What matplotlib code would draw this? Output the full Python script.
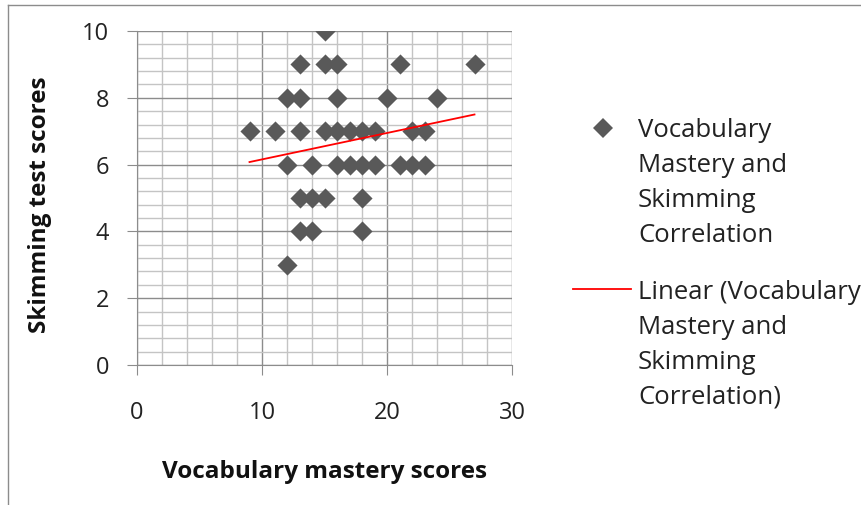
import numpy as np
import matplotlib.pyplot as plt
from matplotlib.lines import Line2D
from matplotlib.ticker import MultipleLocator

# scores (vocabulary x, skimming y)
vocab = [15,
         13, 15, 16, 21, 27,
         12, 13, 16, 20, 24,
         9, 11, 13, 15, 16, 17, 18, 19, 22, 23,
         12, 14, 16, 17, 18, 19, 21, 22, 23,
         13, 14, 15, 18,
         13, 14, 18,
         12]
skim = [10,
        9, 9, 9, 9, 9,
        8, 8, 8, 8, 8,
        7, 7, 7, 7, 7, 7, 7, 7, 7, 7,
        6, 6, 6, 6, 6, 6, 6, 6, 6,
        5, 5, 5, 5,
        4, 4, 4,
        3]

series_label = "Vocabulary\nMastery and\nSkimming\nCorrelation"
trend_label = "Linear (Vocabulary\nMastery and\nSkimming\nCorrelation)"

plt.rcParams["font.family"] = ["Open Sans", "DejaVu Sans"]

W, H = 861, 505
fig = plt.figure(figsize=(W / 100, H / 100), dpi=100)
ax = fig.add_axes([137 / W, 1 - 365 / H, 375 / W, 334 / H])

x = np.array(vocab, dtype=float)
y = np.array(skim, dtype=float)
ax.scatter(x, y, marker="D", s=105, color="#595959", zorder=3, linewidths=0)

# linear trend line over the data range
k, b = np.polyfit(x, y, 1)
xs = np.array([x.min(), x.max()])
ax.plot(xs, k * xs + b, color="#ff0000", lw=1.3, zorder=4)

ax.set_xlim(0, 30)
ax.set_ylim(0, 10)
ax.xaxis.set_major_locator(MultipleLocator(10))
ax.xaxis.set_minor_locator(MultipleLocator(2))
ax.yaxis.set_major_locator(MultipleLocator(2))
ax.yaxis.set_minor_locator(MultipleLocator(0.4))
ax.grid(which="major", color="#8c8c8c", lw=1.0)
ax.grid(which="minor", color="#c4c4c4", lw=1.0)
ax.set_axisbelow(True)

for side in ("top", "right"):
    ax.spines[side].set_visible(False)
for side in ("left", "bottom"):
    ax.spines[side].set_color("#8c8c8c")
ax.tick_params(which="major", length=7, color="#8c8c8c", labelsize=17, labelcolor="#222222")
ax.tick_params(axis="y", pad=13)
ax.tick_params(axis="x", pad=19)
ax.tick_params(which="minor", length=0)

fig.text(325 / W, 1 - 472 / H, "Vocabulary mastery scores", fontsize=17.5,
         fontweight="bold", ha="center", va="center", color="#111111")
fig.text(40 / W, 1 - 205 / H, "Skimming test scores", fontsize=17.5,
         fontweight="bold", ha="center", va="center", rotation=90, color="#111111")

# legend, drawn by hand so the keys sit on the first text line
fig.add_artist(Line2D([603 / W], [1 - 128 / H], marker="D", ls="none", color="#595959",
                      markersize=10, markeredgewidth=0, transform=fig.transFigure))
fig.add_artist(Line2D([573 / W, 631 / W], [1 - 289 / H, 1 - 289 / H], color="#ff0000",
                      lw=1.3, transform=fig.transFigure))
for label, ytop in ((series_label, 118), (trend_label, 280)):
    fig.text(638 / W, 1 - ytop / H, label, fontsize=18.5, ha="left", va="top",
             linespacing=1.52, color="#222222")

# outer chart border (left and top edges visible)
fig.add_artist(Line2D([8 / W, 8 / W], [0, 1 - 5 / H], color="#8c8c8c", lw=1, transform=fig.transFigure))
fig.add_artist(Line2D([8 / W, 1], [1 - 5 / H, 1 - 5 / H], color="#8c8c8c", lw=1, transform=fig.transFigure))

fig.savefig("out.png", dpi=100)
